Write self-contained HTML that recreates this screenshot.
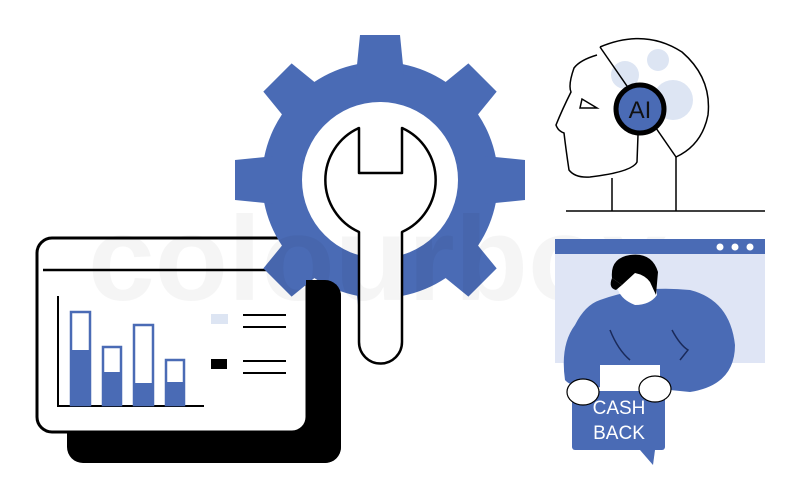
<!DOCTYPE html>
<html><head><meta charset="utf-8"><style>
html,body{margin:0;padding:0;background:#fff;width:800px;height:499px;overflow:hidden}
svg{display:block}
</style></head><body>
<svg width="800" height="499" viewBox="0 0 800 499" xmlns="http://www.w3.org/2000/svg">
<defs>
<clipPath id="rc"><rect x="306" y="0" width="100" height="499"/></clipPath>
</defs>
<rect x="67" y="280" width="274" height="183" rx="16" fill="#000"/>
<rect x="37" y="238" width="270" height="194" rx="15" fill="#fff" stroke="#000" stroke-width="3"/>
<line x1="43" y1="270" x2="300" y2="270" stroke="#000" stroke-width="2.5"/>
<line x1="58" y1="296" x2="58" y2="407" stroke="#000" stroke-width="2"/>
<line x1="58" y1="406" x2="204" y2="406" stroke="#000" stroke-width="2"/>
<g stroke="#4a6bb5" stroke-width="2.5" fill="#fff">
<rect x="71" y="312" width="19" height="93"/>
<rect x="103" y="347" width="18" height="58"/>
<rect x="134" y="325" width="19" height="80"/>
<rect x="166" y="360" width="18" height="45"/>
</g>
<g fill="#4a6bb5">
<rect x="70" y="350" width="21" height="55"/>
<rect x="102" y="372" width="20" height="33"/>
<rect x="133" y="383" width="21" height="22"/>
<rect x="165" y="382" width="20" height="23"/>
</g>
<rect x="211" y="314" width="17" height="10" fill="#dde5f3"/>
<rect x="211" y="359" width="16" height="10" fill="#000"/>
<g stroke="#000" stroke-width="2">
<line x1="243" y1="315" x2="286" y2="315"/><line x1="243" y1="327" x2="286" y2="327"/>
<line x1="243" y1="361" x2="286" y2="361"/><line x1="243" y1="373" x2="286" y2="373"/>
</g>
<g fill="#4a6bb5">
<circle cx="380" cy="180" r="118"/>
<g id="t"><path d="M356,75 L360,35 L400,35 L404,75 Z"/></g>
<use href="#t" transform="rotate(45 380 180)"/>
<use href="#t" transform="rotate(90 380 180)"/>
<use href="#t" transform="rotate(135 380 180)"/>
<use href="#t" transform="rotate(180 380 180)"/>
<use href="#t" transform="rotate(225 380 180)"/>
<use href="#t" transform="rotate(270 380 180)"/>
<use href="#t" transform="rotate(315 380 180)"/>
</g>
<circle cx="380" cy="180" r="78" fill="#fff"/>
<rect x="67" y="280" width="274" height="183" rx="16" fill="#000" clip-path="url(#rc)"/>
<path d="M359,128 L359,173 L402,173 L402,128 A57,57 0 0 1 402,232 L402,342 A21.5,21.5 0 0 1 359,342 L359,232 A57,57 0 0 1 359,128 Z" fill="#fff" stroke="#000" stroke-width="2.5" stroke-linejoin="round"/>
<text x="88" y="300" font-family="Liberation Sans, sans-serif" font-weight="bold" font-size="120" fill="#000" opacity="0.035">colourbox</text>
<g fill="#dde5f3">
<circle cx="625" cy="75" r="14"/><circle cx="658" cy="60" r="11"/><circle cx="673" cy="100" r="20"/>
</g>
<path d="M600,47 Q645,28 682,52 Q712,78 708,115 Q702,145 676,157" fill="none" stroke="#000" stroke-width="1.5"/>
<line x1="600" y1="47" x2="676" y2="157" stroke="#000" stroke-width="1.5"/>
<line x1="676" y1="157" x2="676" y2="211" stroke="#000" stroke-width="1.5"/>
<path d="M597,55 Q580,60 574,68 Q568,85 571,92 Q562,110 556,125 Q558,131 564,133 Q566,150 569,170 Q575,178 590,177 Q632,172 637,162 L638,135" fill="none" stroke="#000" stroke-width="1.5"/>
<line x1="612" y1="178" x2="612" y2="211" stroke="#000" stroke-width="1.5"/>
<path d="M582,99 L580,108 L597,108 Z" fill="none" stroke="#000" stroke-width="1.5"/>
<line x1="566" y1="211" x2="765" y2="211" stroke="#000" stroke-width="1.5"/>
<circle cx="640" cy="109" r="24" fill="#4a6bb5" stroke="#000" stroke-width="5"/>
<text x="640" y="118" text-anchor="middle" font-family="Liberation Sans, sans-serif" font-size="24" fill="#111">AI</text>
<rect x="555" y="239" width="210" height="124" fill="#dfe5f5"/>
<rect x="555" y="239" width="210" height="15" fill="#4a6bb5"/>
<g fill="#fff"><circle cx="720" cy="247" r="3.5"/><circle cx="735" cy="247" r="3.5"/><circle cx="750" cy="247" r="3.5"/></g>
<path d="M600,300 Q640,285 690,290 Q730,300 735,345 Q735,385 690,392 L620,385 Q575,392 565,380 Q560,345 575,325 Q585,305 600,300 Z" fill="#4a6bb5"/>
<path d="M620,270 Q640,262 655,278 L657,295 Q650,305 635,305 Q622,300 618,290 Z" fill="#fff"/>
<path d="M612,278 Q610,258 630,255 Q652,252 658,272 L656,295 L650,282 Q645,275 635,273 L622,285 Z" fill="#000"/>
<path d="M612,278 Q608,288 616,290 L622,285 Z" fill="#000"/>
<rect x="600" y="365" width="60" height="30" fill="#fff"/>
<path d="M610,330 Q618,350 630,360" fill="none" stroke="#1a2a5a" stroke-width="1.5"/>
<path d="M672,330 Q680,345 688,350 L680,360" fill="none" stroke="#1a2a5a" stroke-width="1.5"/>
<rect x="572" y="391" width="93" height="59" rx="3" fill="#4a6bb5"/>
<path d="M640,450 L653,465 L655,450 Z" fill="#4a6bb5"/>
<ellipse cx="583" cy="392" rx="16" ry="13" fill="#fff" stroke="#000" stroke-width="1.2"/>
<ellipse cx="655" cy="389" rx="16" ry="13" fill="#fff" stroke="#000" stroke-width="1.2"/>
<text x="619" y="414" text-anchor="middle" font-family="Liberation Sans, sans-serif" font-size="19" fill="#fff">CASH</text>
<text x="619" y="439" text-anchor="middle" font-family="Liberation Sans, sans-serif" font-size="19" fill="#fff">BACK</text>
</svg>
</body></html>
